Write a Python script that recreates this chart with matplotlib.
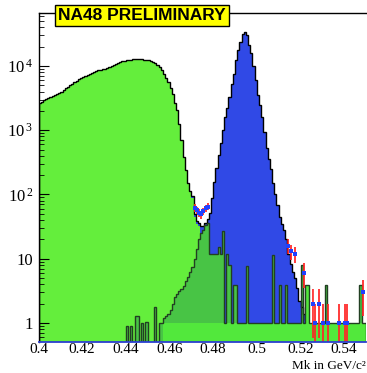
import numpy as np
import matplotlib
matplotlib.use("Agg")
import matplotlib.pyplot as plt
from matplotlib.ticker import LogLocator, NullFormatter, FixedLocator

plt.rcParams['font.family'] = ['Liberation Serif', 'DejaVu Serif']
plt.rcParams['mathtext.fontset'] = 'custom'
plt.rcParams['mathtext.rm'] = 'Liberation Serif'
plt.rcParams['mathtext.it'] = 'Liberation Serif:italic'

BIN = 0.001

# --- K -> 3pi background (bright green), first bin starts at 0.400 ---
k3pi_start = 0.400
k3pi = [2630, 2790, 2950, 3090, 3200, 3310, 3430, 3550, 3670, 3800,
        3980, 4220, 4470, 4730, 5010, 5250, 5560, 5820, 6170, 6460,
        6680, 6920, 7160, 7410, 7670, 7940, 8220, 8510, 8710, 8910,
        9120, 9330, 9660, 9890, 10230, 10720, 11220, 11610, 11890, 12160,
        12300, 12450, 12590, 12740, 12880, 12880, 12880, 12740, 12590, 12450,
        12300, 11890, 11480, 11090, 10470, 9550, 8710, 7590, 6610, 5620,
        4570, 3630, 2630, 2090, 1260, 710, 380, 240, 150, 112,
        89, 45, 35, 32, 20, 10, 6, 3]

# --- signal (blue), stacked on top of k3pi, first bin at 0.470 ---
signal_start = 0.470
signal = [6, 5, 3, 4, 12, 22, 30, 39, 52, 89,
          158, 263, 417, 630, 1000, 1580, 2240, 3310, 5250, 7590,
          12600, 17800, 24000, 31600, 33900, 30200, 21400, 15800, 10000, 6000,
          3550, 2500, 1580, 950, 525, 355, 250, 150, 100, 68,
          45, 35, 28, 20, 12, 8.3, 6.3, 5, 3.5, 2.2,
          1.8, 1.4, 1.1]

# --- second background (medium green, dark outline), first bin at 0.440 ---
bg2_start = 0.440
bg2 = [0.9, 0, 0.9, 0, 1.3, 1.3, 0, 1.0, 0, 1.05,
       0, 0, 0, 1.8, 0, 1.0, 1.0, 1.2, 1.3, 1.4,
       1.6, 2.0, 2.5, 2.8, 3.1, 3.4, 3.8, 4.5, 5.2, 6.3,
       7.5, 10, 14, 20, 25, 28, 33, 36, 12, 12,
       12, 12, 15, 12, 27, 1, 12, 8, 1, 3.9,
       3.9, 1, 1, 1, 1, 7.8, 1, 1, 1, 1,
       1, 1, 1, 1, 1, 1, 1, 11.4, 1, 1,
       3.9, 1, 1, 3.9, 1, 1, 1, 1, 1, 1,
       8, 1, 3.9, 3.9, 1, 1, 1, 1, 1, 1,
       1, 3.9, 1, 1, 1, 1, 1, 1, 1, 1,
       1, 1, 1, 1, 1, 1, 1, 3.9, 1, 1]

# --- low-level tail component (bright green), first bin at 0.457 ---
tail_start = 0.457
tail = [1, 1, 1, 1, 1, 1, 1, 1, 1, 1,
        1, 1, 1, 1, 1, 1, 1, 1, 1, 1,
        1, 1, 1, 1, 1, 1, 1, 1, 1, 1,
        1, 1, 1, 1, 1, 1, 1, 1, 1, 1,
        1, 1, 1, 1, 1, 1, 1, 1, 1, 1,
        1, 1, 1, 1, 1, 1, 1, 1, 1, 1,
        1, 1, 1, 1, 1, 3.9, 3.9, 1, 1, 1,
        1, 1, 1, 1, 1, 1, 1, 1, 1, 1,
        1, 1, 1, 1, 1, 1, 1, 1, 1, 1,
        1, 1, 1]

# --- data points ---
data_mass = [0.4715, 0.4725, 0.4735, 0.4745, 0.4755, 0.4765, 0.4775,
             0.5145, 0.5155, 0.5175, 0.5215, 0.5255, 0.5265, 0.5285,
             0.5305, 0.5325, 0.5375, 0.5405, 0.5415, 0.5485]
data_counts = [62, 57, 52, 49, 55, 61, 65,
               16, 13, 12, 6, 2, 1, 2,
               1, 1, 1, 1, 1, 3]

xticks = [0.40, 0.42, 0.44, 0.46, 0.48, 0.50, 0.52, 0.54]
xticklabels = ['0.4', '0.42', '0.44', '0.46', '0.48', '0.5', '0.52', '0.54']
yticks = [1, 10, 100, 1000, 10000]
yticklabels = ['1', '10', r'$10^{\,2}$', r'$10^{\,3}$', r'$10^{\,4}$']

FLOOR = 1e-3
XMIN, XMAX = 0.40, 0.55
NB = int(round((XMAX - XMIN) / BIN))
edges = np.linspace(XMIN, XMAX, NB + 1)


def to_full(start, vals):
    full = np.zeros(NB)
    i0 = int(round((start - XMIN) / BIN))
    full[i0:i0 + len(vals)] = vals
    return full


def clip(v):
    v = np.asarray(v, dtype=float)
    return np.where(v > 0, v, FLOOR)


k3pi_f = to_full(k3pi_start, k3pi)
sig_f = to_full(signal_start, signal)
bg2_f = to_full(bg2_start, bg2)
tail_f = to_full(tail_start, tail)
total_f = k3pi_f + sig_f

fig = plt.figure(figsize=(3.67, 3.73), dpi=100)
ax = fig.add_axes([38.5 / 367, 31 / 373, 327.5 / 367, 329.3 / 373])
ax.set_yscale('log')
ax.set_xlim(XMIN, XMAX)
ax.set_ylim(0.506, 67500)

BLUE = '#3049e6'
GREEN = '#64ee3c'
MGREEN = '#48c445'
TGREEN = '#52e83c'
DARK = '#223f22'

ax.stairs(clip(total_f), edges, baseline=FLOOR, fill=True, color=BLUE, zorder=1.0)
ax.stairs(clip(k3pi_f), edges, baseline=FLOOR, fill=True, color=GREEN, zorder=1.1)
ax.stairs(clip(bg2_f), edges, baseline=FLOOR, fill=True, color=MGREEN, zorder=1.2)
ax.stairs(clip(total_f), edges, baseline=FLOOR, fill=False, color='black', lw=1.0, zorder=1.3)
ax.stairs(clip(tail_f), edges, baseline=FLOOR, fill=True, color=TGREEN, zorder=1.4)
ax.stairs(clip(bg2_f), edges, baseline=FLOOR, fill=False, color=DARK, lw=1.0, zorder=1.5)

# data: pink error boxes, red error bars, blue markers
dm = np.array(data_mass)
dc = np.array(data_counts, dtype=float)
err = np.sqrt(dc)
lo = np.maximum(dc - err, 0.3)
hi = dc + err
for x, l, h in zip(dm, lo, hi):
    ax.add_patch(plt.Rectangle((x - BIN * 0.45, l), BIN * 0.9, h - l,
                               facecolor='#ff8080', alpha=0.5, lw=0, zorder=2.0))
ax.vlines(dm, lo, hi, color='#ff1a1a', lw=1.1, zorder=2.1)
ax.plot(dm, dc, 's', color='#2040ff', ms=2.4, mew=0, zorder=2.2)

ax.spines['right'].set_visible(False)
ax.spines['left'].set_linewidth(1.0)
ax.spines['top'].set_linewidth(1.0)
ax.spines['bottom'].set_color('#2b40d0')
ax.spines['bottom'].set_linewidth(1.3)

ax.yaxis.set_major_locator(FixedLocator(yticks))
ax.set_yticklabels(yticklabels)
ax.yaxis.set_minor_locator(LogLocator(base=10, subs=np.arange(2, 10)))
ax.yaxis.set_minor_formatter(NullFormatter())
ax.tick_params(axis='y', which='major', direction='in', length=7, width=0.8,
               labelsize=12, pad=4)
ax.tick_params(axis='y', which='minor', direction='in', length=3.5, width=0.6)

ax.set_xticks(xticks)
ax.set_xticklabels(xticklabels)
ax.xaxis.set_minor_locator(FixedLocator([]))
ax.tick_params(axis='x', which='major', length=0, labelsize=11, pad=0.5)

fig.text(0.997, 0.0015, 'Mk in GeV/c\u00b2', ha='right', va='bottom', fontsize=9.5)

fig.text(142 / 367, 1 - 15.5 / 373, 'NA48 PRELIMINARY', ha='center', va='center',
         fontsize=12.5, fontweight='bold', family='Liberation Sans',
         bbox=dict(boxstyle='square,pad=0.18', fc='#ffff00', ec='black', lw=1.0),
         zorder=5)

fig.savefig('out.png', dpi=100)
